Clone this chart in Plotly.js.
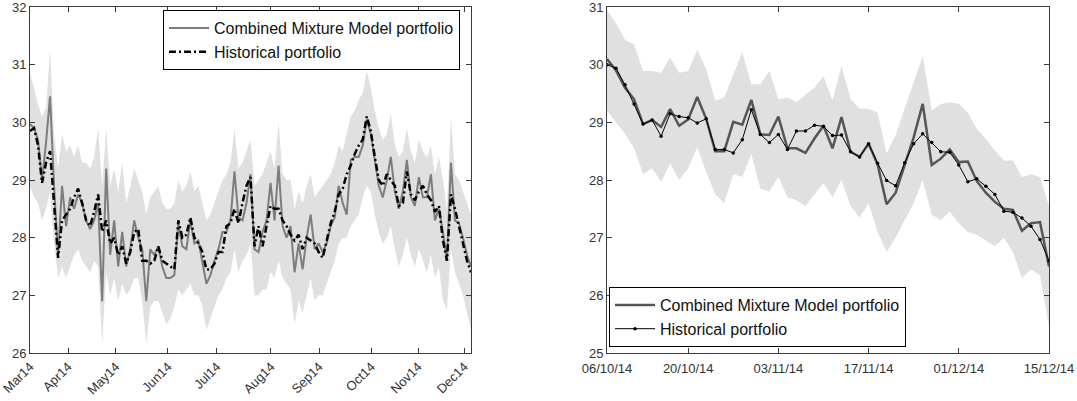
<!DOCTYPE html>
<html>
<head>
<meta charset="utf-8">
<script src="https://cdn.plot.ly/plotly-3.0.1.min.js"></script>
<style>
  html, body { margin: 0; padding: 0; background: #fff; }
  #chart { width: 1077px; height: 401px; }
</style>
</head>
<body>
<div id="chart"></div>
<script>
// ---- Left panel: March - December 2014 (trading-day index) ----
const leftModel = [29.97,29.9,29.7,29.0,29.65,30.45,28.9,27.7,28.9,28.2,
  28.7,28.5,28.75,28.6,28.3,28.15,28.3,28.6,26.9,29.2,
  27.7,28.3,27.5,28.1,27.5,27.8,28.3,28.0,27.8,26.9,
  27.8,27.7,27.85,27.5,27.3,27.3,27.35,28.25,27.85,27.8,
  28.3,27.9,27.95,27.6,27.2,27.35,27.6,27.8,28.1,28.1,
  28.3,29.15,28.35,28.3,28.6,29.1,27.8,27.75,28.1,28.3,
  28.95,28.3,29.25,28.2,28.0,28.2,27.4,27.9,27.45,28.0,
  28.4,27.8,27.9,27.75,27.9,28.2,28.35,28.9,28.6,28.4,
  29.35,29.4,29.4,29.6,30.05,29.8,29.35,28.9,28.7,29.0,
  29.4,28.8,28.5,28.8,29.35,28.7,28.55,29.05,28.7,28.7,
  29.1,28.3,28.5,28.1,27.6,29.3,28.3,28.25,28.0,27.7,27.5];
const leftHist = [29.85,29.9,29.6,28.95,29.3,29.5,28.6,27.65,28.3,28.4,
  28.5,28.7,28.85,28.6,28.3,28.2,28.45,28.75,28.1,28.3,
  27.9,28.0,27.7,27.85,27.55,27.75,28.1,28.15,27.6,27.6,
  27.55,27.6,27.85,27.6,27.55,27.5,27.45,28.3,28.0,28.05,
  28.35,28.0,27.9,27.75,27.45,27.45,27.55,27.75,27.75,28.2,
  28.25,28.5,28.25,28.6,28.9,29.05,27.85,28.2,27.85,28.2,
  28.55,28.5,28.5,28.3,28.2,28.05,27.95,28.05,27.8,28.0,
  27.95,27.9,27.75,27.65,27.95,28.25,28.45,28.75,28.85,29.1,
  29.25,29.45,29.6,29.7,30.1,29.85,29.4,29.0,28.9,29.1,
  29.0,28.9,28.55,28.6,29.15,28.75,28.65,28.8,28.9,28.75,
  28.65,28.45,28.55,27.95,27.6,28.75,28.5,28.2,27.85,27.6,27.4];
const leftUpper = [30.85,30.6,30.3,30.1,30.25,31.25,29.8,29.2,29.8,29.5,
  29.6,29.4,29.6,29.3,29.3,29.2,29.4,29.9,28.9,29.9,
  28.9,29.2,28.8,29.3,28.6,28.9,29.2,29.0,28.8,28.4,
  28.7,28.8,28.9,28.6,28.5,28.5,28.6,29.0,28.8,28.9,
  29.15,28.8,28.9,28.6,28.3,28.4,28.6,28.8,29.0,29.1,
  29.3,29.9,29.2,29.3,29.5,29.7,28.9,29.0,29.1,29.3,
  29.5,29.2,30.0,29.1,29.0,29.0,28.5,28.8,28.6,28.9,
  29.1,28.7,28.8,28.9,29.0,29.1,29.3,29.6,29.5,29.8,
  30.1,30.2,30.4,30.5,30.9,30.6,30.2,29.9,29.7,29.8,
  30.15,29.6,29.4,29.5,29.9,29.5,29.3,29.7,29.5,29.4,
  29.6,29.1,29.4,29.0,28.5,30.1,29.1,29.0,28.8,28.6,28.4];
const leftLower = [28.9,28.7,28.6,28.3,28.5,28.8,27.9,27.3,27.5,27.3,
  27.5,27.7,27.8,27.6,27.5,27.4,27.6,27.5,26.15,27.4,
  27.0,27.3,26.9,27.2,27.0,27.1,27.3,27.3,26.9,26.15,
  26.8,26.9,26.9,26.7,26.5,26.6,26.8,27.1,27.0,27.1,
  27.2,27.0,27.0,26.8,26.4,26.6,26.8,27.0,27.1,27.3,
  27.4,27.8,27.4,27.6,27.7,27.9,27.0,27.0,27.1,27.1,
  27.4,27.3,27.6,27.3,27.2,27.1,26.5,26.9,26.7,27.0,
  27.3,26.9,27.0,27.0,27.2,27.4,27.6,27.9,28.0,28.0,
  28.2,28.3,28.4,28.7,28.9,28.8,28.4,28.1,27.9,28.0,
  28.2,27.8,27.5,27.7,28.0,27.7,27.5,27.8,27.6,27.4,
  27.7,27.3,27.5,26.9,26.75,27.8,27.4,27.2,27.0,26.7,26.4];
const leftTickIdx = [0, 9.5, 21.4, 34.4, 46.6, 60.1, 72.1, 85.1, 96.8, 108.3];
const leftTickText = ['Mar14','Apr14','May14','Jun14','Jul14','Aug14','Sep14','Oct14','Nov14','Dec14'];

// ---- Right panel: 06/10/14 - 15/12/14 (trading-day index) ----
const rightModel = [30.1,29.9,29.6,29.4,28.97,29.04,28.92,29.23,28.94,29.05,
  29.44,29.06,28.5,28.5,29.01,28.96,29.39,28.79,28.78,29.1,
  28.55,28.55,28.47,28.72,28.94,28.55,29.09,28.49,28.4,28.63,
  28.27,27.58,27.78,28.27,28.74,29.32,28.26,28.37,28.53,28.31,
  28.32,27.98,27.78,27.62,27.5,27.48,27.12,27.25,27.27,26.5];
const rightHist = [30.0,29.94,29.65,29.32,28.97,29.04,28.76,29.15,29.1,29.08,
  28.99,29.06,28.53,28.53,28.47,28.7,29.22,28.79,28.65,28.79,
  28.53,28.85,28.85,28.95,28.93,28.77,28.78,28.49,28.4,28.63,
  28.29,27.99,27.9,28.3,28.63,28.8,28.65,28.49,28.48,28.26,
  27.97,28.02,27.89,27.75,27.46,27.44,27.34,27.2,26.97,26.6];
const rightUpper = [30.95,30.72,30.43,30.35,29.89,29.89,29.86,30.12,29.86,29.89,
  30.26,29.92,29.38,29.43,29.83,30.21,29.66,29.66,29.89,29.4,
  29.43,29.35,29.48,29.6,29.8,29.38,29.98,29.4,29.24,29.23,
  29.17,28.46,28.78,29.23,29.69,30.15,29.2,29.32,29.35,29.32,
  29.17,28.89,28.71,28.51,28.34,28.34,28.05,28.1,28.05,27.55];
const rightLower = [29.2,29.0,28.8,28.55,28.1,28.2,27.97,28.28,28.0,28.2,
  28.57,28.14,27.75,27.6,28.1,28.05,28.45,27.85,27.8,28.05,
  27.7,27.65,27.55,27.75,27.95,27.7,28.0,27.55,27.35,27.6,
  27.1,26.75,27.0,27.3,27.6,28.0,27.4,27.3,27.45,27.25,
  27.1,27.05,26.95,26.85,27.0,26.75,26.3,26.45,26.35,25.45];
const rightTickIdx = [0, 9, 19, 29, 39, 49];
const rightTickText = ['06/10/14','20/10/14','03/11/14','17/11/14','01/12/14','15/12/14'];

const idx = arr => arr.map((_, i) => i);

const BAND = 'rgb(224,224,224)';
const AXIS = '#3a3a3a';
const FONT = 'Liberation Sans, Arial, sans-serif';

const traces = [
  // left band
  { x: idx(leftLower), y: leftLower, xaxis: 'x', yaxis: 'y', mode: 'lines',
    line: { width: 0, color: BAND }, showlegend: false, hoverinfo: 'skip' },
  { x: idx(leftUpper), y: leftUpper, xaxis: 'x', yaxis: 'y', mode: 'lines',
    line: { width: 0, color: BAND }, fill: 'tonexty', fillcolor: BAND,
    showlegend: false, hoverinfo: 'skip' },
  { x: idx(leftModel), y: leftModel, xaxis: 'x', yaxis: 'y', mode: 'lines',
    name: 'Combined Mixture Model portfolio',
    line: { color: 'rgb(125,125,125)', width: 2 }, legend: 'legend' },
  { x: idx(leftHist), y: leftHist, xaxis: 'x', yaxis: 'y', mode: 'lines',
    name: 'Historical portfolio',
    line: { color: '#000', width: 2.5, dash: '7px,3px,2px,3px' }, legend: 'legend' },

  // right band
  { x: idx(rightLower), y: rightLower, xaxis: 'x2', yaxis: 'y2', mode: 'lines',
    line: { width: 0, color: BAND }, showlegend: false, hoverinfo: 'skip' },
  { x: idx(rightUpper), y: rightUpper, xaxis: 'x2', yaxis: 'y2', mode: 'lines',
    line: { width: 0, color: BAND }, fill: 'tonexty', fillcolor: BAND,
    showlegend: false, hoverinfo: 'skip' },
  { x: idx(rightModel), y: rightModel, xaxis: 'x2', yaxis: 'y2', mode: 'lines',
    name: 'Combined Mixture Model portfolio',
    line: { color: 'rgb(85,85,85)', width: 2.5 }, legend: 'legend2' },
  { x: idx(rightHist), y: rightHist, xaxis: 'x2', yaxis: 'y2', mode: 'lines+markers',
    name: 'Historical portfolio',
    line: { color: '#000', width: 1 }, marker: { color: '#000', size: 3.5 },
    legend: 'legend2' }
];

const axisBase = {
  showline: true, linecolor: AXIS, linewidth: 1, mirror: 'ticks',
  ticks: 'inside', ticklen: 5, tickcolor: AXIS, tickwidth: 1,
  showgrid: false, zeroline: false, fixedrange: true,
  ticklabeloverflow: 'allow',
  tickfont: { family: FONT, size: 13, color: '#333' }
};

const legendBase = {
  bgcolor: '#fff', bordercolor: '#000', borderwidth: 1,
  font: { family: FONT, size: 16, color: '#111' },
  tracegroupgap: 0, itemwidth: 40, traceorder: 'normal'
};

const layout = {
  width: 1077, height: 401,
  margin: { l: 0, r: 0, t: 0, b: 0 },
  paper_bgcolor: '#fff', plot_bgcolor: '#fff',
  showlegend: true,
  xaxis: Object.assign({}, axisBase, {
    domain: [30 / 1077, 471 / 1077], range: [0, leftModel.length - 1],
    tickmode: 'array', tickvals: leftTickIdx, ticktext: leftTickText,
    tickangle: -45, anchor: 'y'
  }),
  yaxis: Object.assign({}, axisBase, {
    domain: [48 / 401, 394 / 401], range: [26, 32], dtick: 1, anchor: 'x'
  }),
  xaxis2: Object.assign({}, axisBase, {
    domain: [607 / 1077, 1049 / 1077], range: [0, rightModel.length - 1],
    tickmode: 'array', tickvals: rightTickIdx, ticktext: rightTickText,
    tickangle: 0, anchor: 'y2', ticklabelstandoff: 3
  }),
  yaxis2: Object.assign({}, axisBase, {
    domain: [48 / 401, 394 / 401], range: [25, 31], dtick: 1, anchor: 'x2'
  }),
  legend: Object.assign({}, legendBase, {
    x: 163 / 1077, y: 1 - 10 / 401, xanchor: 'left', yanchor: 'top'
  }),
  legend2: Object.assign({}, legendBase, {
    x: 609 / 1077, y: (401 - 347) / 401, xanchor: 'left', yanchor: 'bottom'
  })
};

Plotly.newPlot('chart', traces, layout, { displayModeBar: false, staticPlot: true });
</script>
</body>
</html>
